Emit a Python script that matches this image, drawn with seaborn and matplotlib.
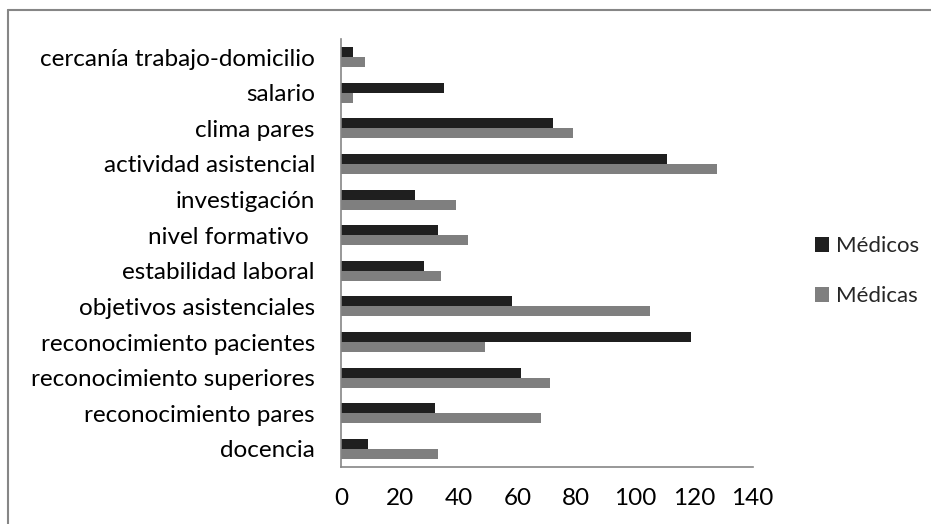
import matplotlib
matplotlib.use("Agg")
import matplotlib.pyplot as plt
from matplotlib.lines import Line2D
from matplotlib.patches import Patch
import seaborn as sns
import pandas as pd
import numpy as np

categories = [
    "cercanía trabajo-domicilio",
    "salario",
    "clima pares",
    "actividad asistencial",
    "investigación",
    "nivel formativo ",
    "estabilidad laboral",
    "objetivos asistenciales",
    "reconocimiento pacientes",
    "reconocimiento superiores",
    "reconocimiento pares",
    "docencia",
]
medicos = [4, 35, 72, 111, 25, 33, 28, 58, 119, 61, 32, 9]
medicas = [8, 4, 79, 128, 39, 43, 34, 105, 49, 71, 68, 33]
series = ["Médicos", "Médicas"]
colors = ["#1f1f1f", "#7f7f7f"]
x_ticks = [0, 20, 40, 60, 80, 100, 120, 140]

df = pd.DataFrame({
    "categoria": categories * 2,
    "valor": medicos + medicas,
    "grupo": [series[0]] * len(categories) + [series[1]] * len(categories),
})

sns.set_theme(style="white")
plt.rcParams["font.family"] = ["Lato", "DejaVu Sans"]
FS = 17.5

fig = plt.figure(figsize=(9.31, 5.24), dpi=100)
ax = fig.add_axes([341.3 / 931, 1 - 466.7 / 524, (752.7 - 341.3) / 931, (466.7 - 39.3) / 524])

sns.barplot(data=df, y="categoria", x="valor", hue="grupo", order=categories,
            hue_order=series, palette=colors, orient="h", width=0.56,
            saturation=1, ax=ax, legend=False, linewidth=0)

ax.set_xlim(0, 140)
ax.set_ylim(len(categories) - 0.5, -0.5)
ax.set_xticks(x_ticks)
ax.set_xticklabels([str(t) for t in x_ticks], fontsize=FS, color="#000000")
ax.set_yticks(np.arange(len(categories)))
ax.set_yticklabels(categories, fontsize=FS, color="#000000")
ax.set_xlabel("")
ax.set_ylabel("")

for side in ["top", "right"]:
    ax.spines[side].set_visible(False)
for side in ["left", "bottom"]:
    ax.spines[side].set_color("#868686")
    ax.spines[side].set_linewidth(1.2)

# category separators as outward ticks on the y axis
ax.tick_params(axis="y", length=0, pad=19)
ax.set_yticks(np.arange(len(categories) + 1) - 0.5, minor=True)
ax.tick_params(axis="y", which="minor", length=6, width=1.2, color="#868686", direction="out")
ax.tick_params(axis="x", length=6, width=1.2, color="#868686", direction="out", pad=9)

handles = [Patch(facecolor=c, edgecolor="none") for c in colors]
fig.legend(handles, series, loc="center left", bbox_to_anchor=(815 / 931, 1 - 271 / 524),
           frameon=False, fontsize=16, handlelength=0.65, handleheight=0.65,
           handletextpad=0.3, labelspacing=1.35, borderpad=0, borderaxespad=0)

# chart frame (left and top edges)
fig.add_artist(Line2D([8 / 931, 8 / 931], [0, 1 - 10 / 524], transform=fig.transFigure,
                      color="#868686", linewidth=1.5))
fig.add_artist(Line2D([8 / 931, 1], [1 - 10 / 524, 1 - 10 / 524], transform=fig.transFigure,
                      color="#868686", linewidth=1.5))

fig.savefig("out.png", dpi=100, facecolor="white")
